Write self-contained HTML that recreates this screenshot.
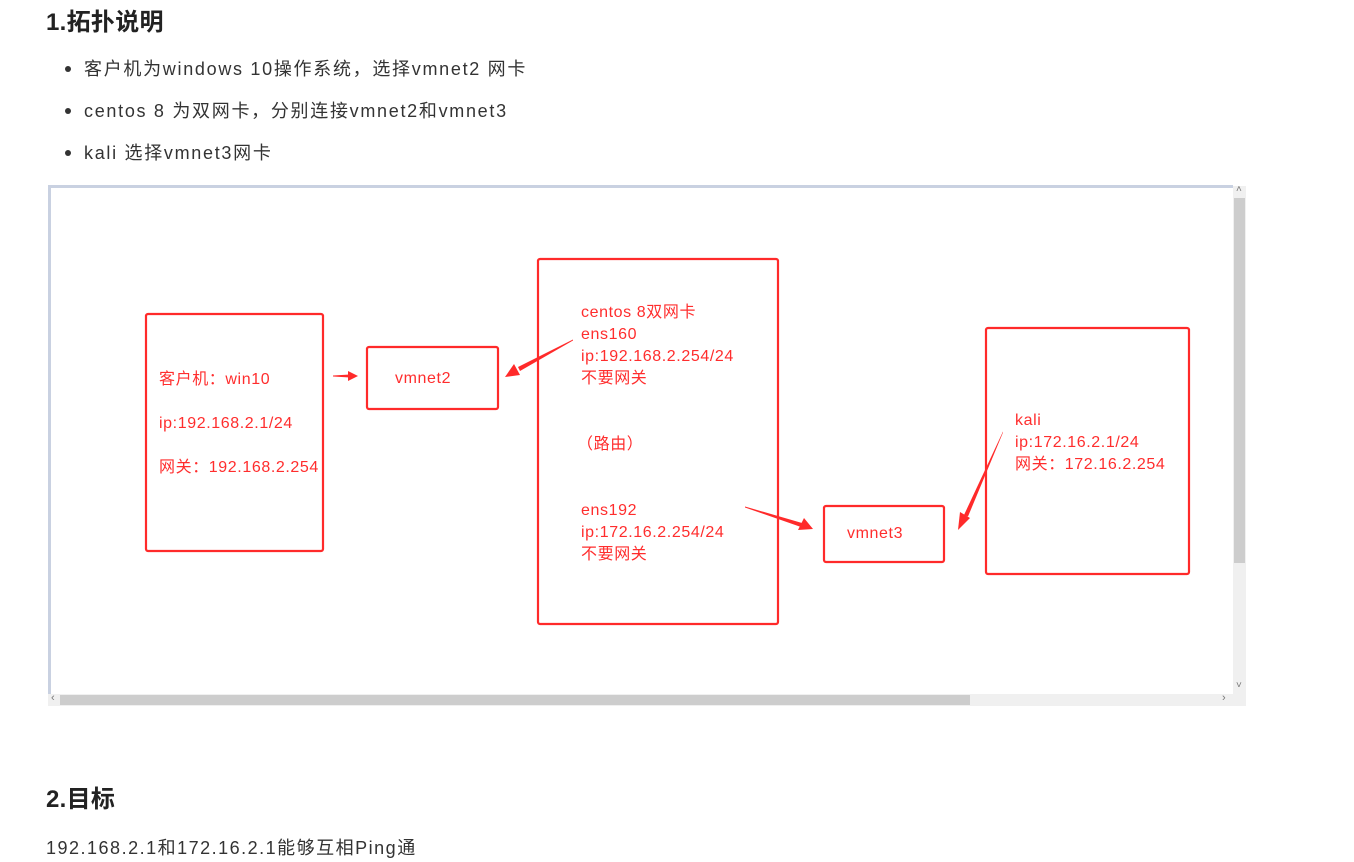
<!DOCTYPE html>
<html><head><meta charset="utf-8"><style>
body{margin:0;width:1354px;height:862px;background:#fff;position:relative;overflow:hidden;font-family:"Liberation Sans","Noto Sans CJK SC",sans-serif;color:#333}
.a{position:absolute;white-space:nowrap}
h1{position:absolute;margin:0;font-size:24px;font-weight:bold;color:#222;left:46px;letter-spacing:0.3px}
.li{font-size:18px;left:84px;line-height:24px;letter-spacing:1.7px}
.dot{position:absolute;left:65px;width:6px;height:6px;border-radius:50%;background:#333}
.r{color:#ff2d2d;font-size:16px;line-height:22px;letter-spacing:0.6px}
</style></head><body>
<h1 style="top:2px">1.拓扑说明</h1>
<div class="dot" style="top:66px"></div><div class="a li" style="top:57px">客户机为windows 10操作系统，选择vmnet2 网卡</div>
<div class="dot" style="top:108px"></div><div class="a li" style="top:99px">centos 8 为双网卡，分别连接vmnet2和vmnet3</div>
<div class="dot" style="top:150px"></div><div class="a li" style="top:141px">kali 选择vmnet3网卡</div>

<div class="a" style="left:48px;top:185px;width:1185px;height:3px;background:#c9d1e1"></div>
<div class="a" style="left:48px;top:185px;width:3px;height:521px;background:#c9d1e1"></div>
<div class="a" style="left:1233px;top:186px;width:13px;height:508px;background:#f0f0f0"></div>
<div class="a" style="left:1234px;top:198px;width:11px;height:365px;background:#cdcdcd"></div>
<div class="a" style="left:48px;top:694px;width:1198px;height:12px;background:#f0f0f0"></div>
<div class="a" style="left:60px;top:695px;width:910px;height:10px;background:#cdcdcd"></div>
<div class="a" style="left:1236px;top:184px;font-size:10px;color:#777">˄</div>
<div class="a" style="left:1236px;top:680px;font-size:10px;color:#777">˅</div>
<div class="a" style="left:51px;top:692px;font-size:11px;color:#777">‹</div>
<div class="a" style="left:1222px;top:692px;font-size:11px;color:#777">›</div>

<svg class="a" style="left:0;top:0" width="1354" height="862">
<g fill="none" stroke="#ff2a2a" stroke-width="2.2">
<rect x="146" y="314" width="177" height="237" rx="2"/>
<rect x="367" y="347" width="131" height="62" rx="2"/>
<rect x="538" y="259" width="240" height="365" rx="2"/>
<rect x="824" y="506" width="120" height="56" rx="2"/>
<rect x="986" y="328" width="203" height="246" rx="2"/>
</g>
<g fill="#ff2a2a">
<polygon points="333,375.5 350,374.5 350,377.5 333,376.5"/><polygon points="348,371 358,376 348,381"/>
<polygon points="573,339.5 518,367 520,371 573,340.5"/><polygon points="514,364 505,377 520,375"/>
<polygon points="745,506.5 802,523 801,527 745,507.5"/><polygon points="804,518 813,529 798,530"/>
<polygon points="1003,431.5 964,515 968,516.5 1003,432.5"/><polygon points="960,512 958,530 970,518"/>
</g>
</svg>

<div class="a r" style="left:159px;top:369px">客户机：win10</div>
<div class="a r" style="left:159px;top:413px">ip:192.168.2.1/24</div>
<div class="a r" style="left:159px;top:457px">网关：192.168.2.254</div>
<div class="a r" style="left:395px;top:368px">vmnet2</div>
<div class="a r" style="left:581px;top:302px">centos 8双网卡<br>ens160<br>ip:192.168.2.254/24<br>不要网关</div>
<div class="a r" style="left:577px;top:434px">（路由）</div>
<div class="a r" style="left:581px;top:500px">ens192<br>ip:172.16.2.254/24<br>不要网关</div>
<div class="a r" style="left:847px;top:523px">vmnet3</div>
<div class="a r" style="left:1015px;top:410px">kali<br>ip:172.16.2.1/24<br>网关：172.16.2.254</div>

<h1 style="top:779px">2.目标</h1>
<div class="a" style="left:46px;top:834px;font-size:18px;letter-spacing:1.5px">192.168.2.1和172.16.2.1能够互相Ping通</div>
</body></html>
